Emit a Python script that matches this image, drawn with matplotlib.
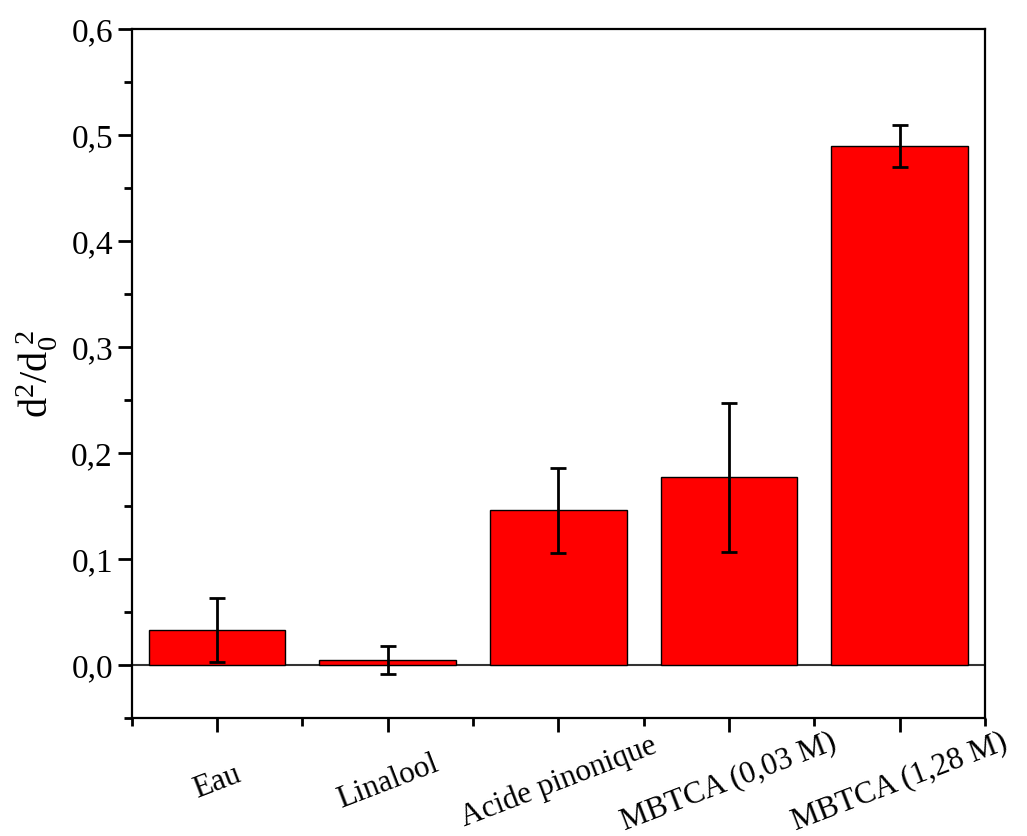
import numpy as np
import matplotlib
matplotlib.use("Agg")
import matplotlib.pyplot as plt
from matplotlib.ticker import MultipleLocator, FixedLocator, FuncFormatter

plt.rcParams["font.family"] = ["Liberation Serif", "DejaVu Serif"]
plt.rcParams["mathtext.fontset"] = "custom"
plt.rcParams["mathtext.rm"] = "Liberation Serif"
plt.rcParams["mathtext.it"] = "Liberation Serif:italic"

categories = ["Eau", "Linalool", "Acide pinonique", "MBTCA (0,03 M)", "MBTCA (1,28 M)"]
values = [0.033, 0.005, 0.146, 0.177, 0.490]
errors = [0.030, 0.013, 0.040, 0.070, 0.020]

x = np.arange(1, len(categories) + 1)

fig = plt.figure(figsize=(10.27, 8.36), dpi=100)
ax = fig.add_axes([0.1282, 0.1411, 0.959 - 0.1282, 0.965 - 0.1411])

ax.bar(x, values, width=0.8, color="#ff0000", edgecolor="black", linewidth=1.0, zorder=2)
ax.errorbar(x, values, yerr=errors, fmt="none", ecolor="black",
            elinewidth=2.0, capsize=6, capthick=2.0, zorder=3)
ax.axhline(0, color="#333333", linewidth=1.5, zorder=1)

ax.set_xlim(0.5, 5.5)
ax.set_ylim(-0.05, 0.6)

ax.yaxis.set_major_locator(MultipleLocator(0.1))
ax.yaxis.set_minor_locator(MultipleLocator(0.05))
ax.yaxis.set_major_formatter(FuncFormatter(lambda v, p: f"{v:.1f}".replace(".", ",")))

ax.set_xticks(x)
ax.xaxis.set_minor_locator(FixedLocator(np.arange(0.5, 6.0, 1.0)))
ax.set_xticklabels(categories, rotation=21, ha="center", va="center", fontsize=22.5)

ax.tick_params(axis="both", which="major", direction="out", length=10, width=2,
               labelsize=24, top=False, right=False)
ax.tick_params(axis="x", which="major", pad=36, labelsize=22.5)
ax.tick_params(axis="both", which="minor", direction="out", length=5.5, width=2,
               top=False, right=False)

for s in ax.spines.values():
    s.set_linewidth(1.6)

ax.set_ylabel(r"$\mathregular{d^2/d_0^{\ 2}}$", fontsize=29, labelpad=8)

fig.savefig("out.png", dpi=100)
